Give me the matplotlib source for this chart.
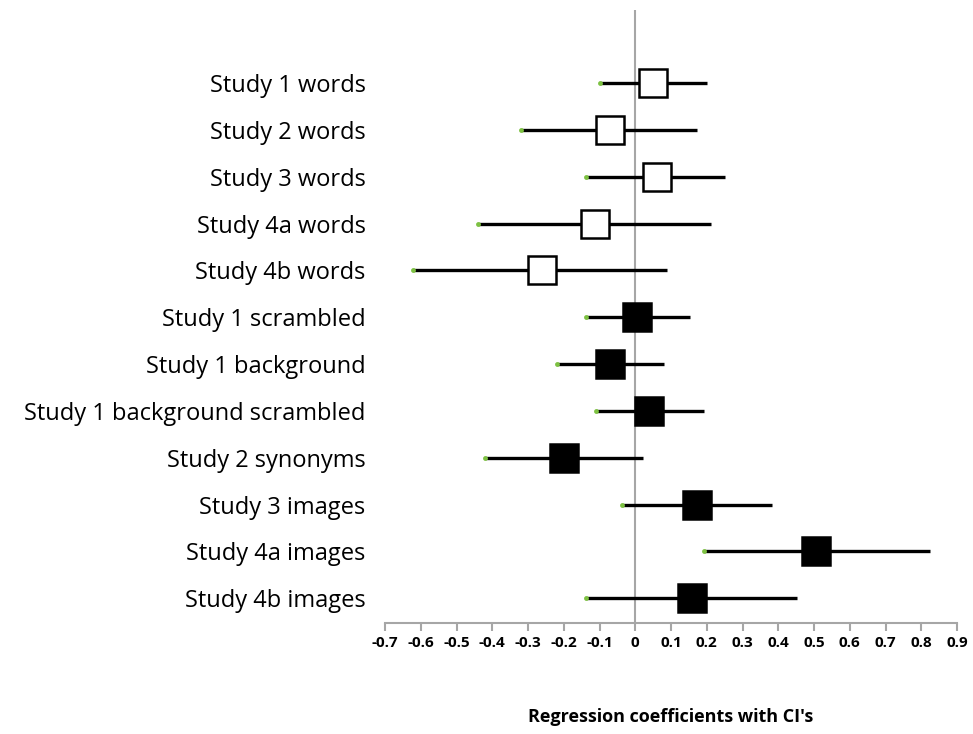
import matplotlib
matplotlib.use("Agg")
import matplotlib.pyplot as plt
import numpy as np

plt.rcParams['font.family'] = ['Open Sans', 'DejaVu Sans']

# Data
studies = ['Study 1 words', 'Study 2 words', 'Study 3 words', 'Study 4a words',
           'Study 4b words', 'Study 1 scrambled', 'Study 1 background',
           'Study 1 background scrambled', 'Study 2 synonyms', 'Study 3 images',
           'Study 4a images', 'Study 4b images']
coef = [0.050, -0.070, 0.060, -0.113, -0.262, 0.006, -0.071, 0.039, -0.199, 0.174, 0.505, 0.159]
ci_low = [-0.099, -0.321, -0.139, -0.441, -0.622, -0.139, -0.220, -0.109, -0.421, -0.038, 0.192, -0.139]
ci_high = [0.200, 0.172, 0.252, 0.211, 0.090, 0.152, 0.080, 0.191, 0.021, 0.382, 0.825, 0.452]
open_marker = [True, True, True, True, True, False, False, False, False, False, False, False]

xticks = np.round(np.arange(-0.7, 0.91, 0.1), 1)
xticklabels = ['0' if t == 0 else ('%g' % t) for t in xticks]

fig = plt.figure(figsize=(9.73, 7.34), dpi=100)
ax = fig.add_axes([0.3957, 0.1512, 0.5879, 0.835])

ypos = np.arange(len(studies))

# zero reference line
ax.axvline(0, color='#a6a6a6', lw=1.5, zorder=1)

for i in range(len(studies)):
    ax.plot([ci_low[i], ci_high[i]], [ypos[i], ypos[i]], color='black', lw=2.4,
            solid_capstyle='butt', zorder=2)
    ax.plot(ci_low[i], ypos[i], 'o', color='#7dc142', markersize=3.5, mec='none', zorder=3)
    face = 'white' if open_marker[i] else 'black'
    ax.plot(coef[i], ypos[i], 's', markersize=20, mfc=face, mec='black', mew=1.8, zorder=4)

ax.set_xlim(-0.7, 0.9)
ax.set_ylim(len(studies) - 0.47, -1.56)

ax.set_yticks(ypos)
ax.set_yticklabels(studies, fontsize=17)
ax.tick_params(axis='y', length=0, pad=14)

ax.set_xticks(xticks)
ax.set_xticklabels(xticklabels, fontsize=11, fontweight='bold')
ax.tick_params(axis='x', direction='out', length=6, width=1.5, color='#a6a6a6', pad=3)

for s in ['top', 'right', 'left']:
    ax.spines[s].set_visible(False)
ax.spines['bottom'].set_color('#a6a6a6')
ax.spines['bottom'].set_linewidth(1.5)

ax.set_xlabel("Regression coefficients with CI's", fontsize=13, fontweight='bold', labelpad=42)

fig.savefig('out.png', dpi=100)
